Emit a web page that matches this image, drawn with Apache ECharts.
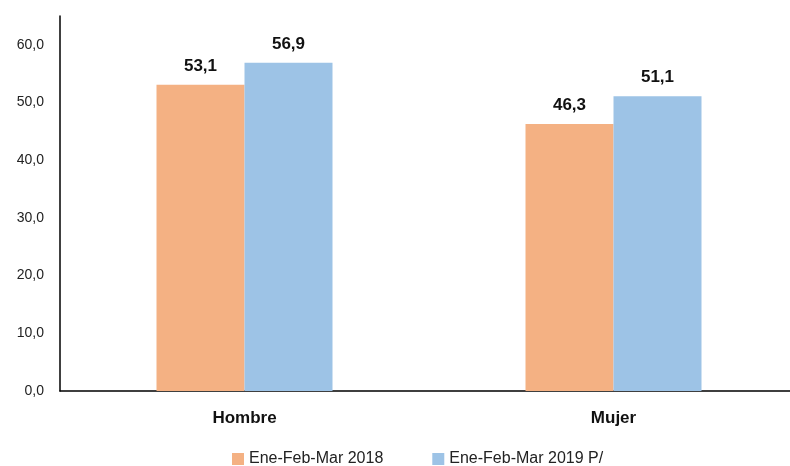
<!DOCTYPE html>
<html><head><meta charset="utf-8">
<script src="https://cdn.jsdelivr.net/npm/echarts@6/dist/echarts.min.js"></script>
<style>html,body{margin:0;padding:0;background:#fff}#c{width:790px;height:466px}</style>
</head><body><div id="c"></div>
<script>
const categories = ['Hombre', 'Mujer'];
const series2018 = [53.1, 46.3];
const series2019 = [56.9, 51.1];
const seriesNames = ['Ene-Feb-Mar 2018', 'Ene-Feb-Mar 2019 P/'];
const fmt = v => v.toFixed(1).replace('.', ',');
const chart = echarts.init(document.getElementById('c'));
const font = '"Liberation Sans", Arial, sans-serif';
chart.setOption({
  animation: false,
  textStyle: { fontFamily: font },
  grid: { left: 60, width: 738, top: 16, bottom: 75, outerBoundsMode: 'none', containLabel: false },
  legend: {
    top: 451, left: 227, padding: [0, 5], itemWidth: 12, itemHeight: 12, itemGap: 49,
    icon: 'rect',
    textStyle: { fontSize: 16, color: '#222', fontFamily: font },
    data: seriesNames
  },
  xAxis: {
    type: 'category', data: categories,
    axisLine: { lineStyle: { color: '#000', width: 1.5 } },
    axisTick: { show: false },
    axisLabel: { fontSize: 17, fontWeight: 'bold', color: '#111', margin: 19 }
  },
  yAxis: {
    type: 'value', min: 0, max: 65, interval: 10,
    axisLine: { show: true, lineStyle: { color: '#000', width: 1.5 } },
    axisTick: { show: false },
    splitLine: { show: false },
    axisLabel: { fontSize: 14, color: '#222', margin: 16,
      formatter: v => (v % 10 === 0 ? fmt(v) : '') }
  },
  series: [
    { name: seriesNames[0], type: 'bar', data: series2018, barWidth: 88, barGap: '0%',
      itemStyle: { color: '#F4B183' },
      label: { show: true, position: 'top', distance: 10, fontSize: 17, fontWeight: 'bold', color: '#111', formatter: p => fmt(p.value) } },
    { name: seriesNames[1], type: 'bar', data: series2019, barWidth: 88,
      itemStyle: { color: '#9DC3E6' },
      label: { show: true, position: 'top', distance: 10, fontSize: 17, fontWeight: 'bold', color: '#111', formatter: p => fmt(p.value) } }
  ]
});
</script></body></html>
